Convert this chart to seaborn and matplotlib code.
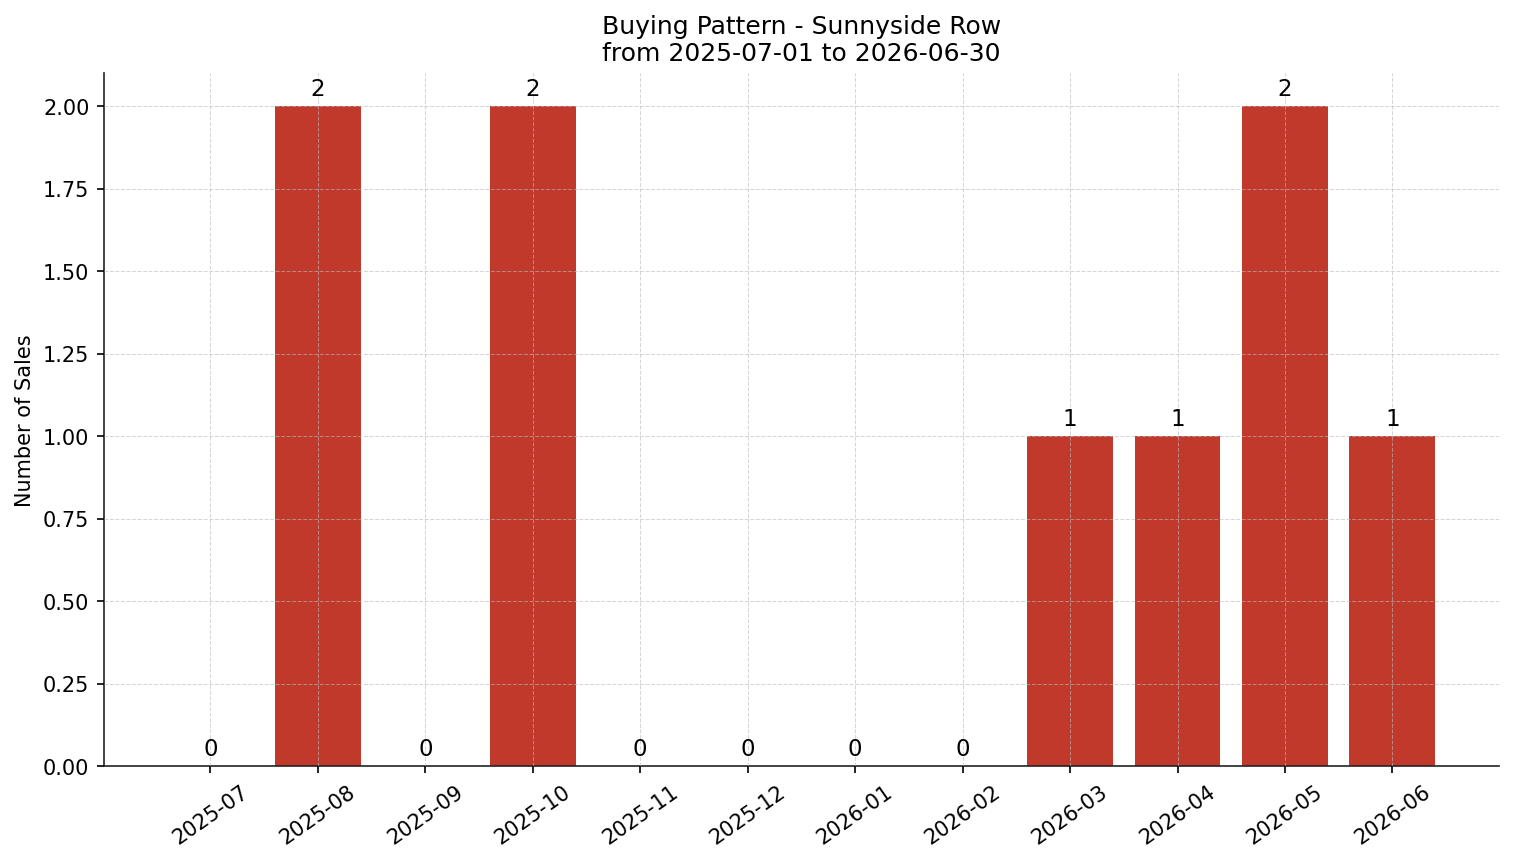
import pandas as pd
import numpy as np
import seaborn as sns
import matplotlib
matplotlib.use("Agg")
import matplotlib.pyplot as plt

## monthly sales counts
months = ['2025-07', '2025-08', '2025-09', '2025-10', '2025-11', '2025-12',
          '2026-01', '2026-02', '2026-03', '2026-04', '2026-05', '2026-06']
sales = [0, 2, 0, 2, 0, 0, 0, 0, 1, 1, 2, 1]

sales_df = pd.DataFrame({'month': months, 'sales': sales})

sns.set_style('ticks', {'text.color': 'black', 'axes.labelcolor': 'black',
                        'axes.edgecolor': 'black', 'xtick.color': 'black', 'ytick.color': 'black'})
plt.rcParams['font.family'] = ['DejaVu Sans']

fig, ax = plt.subplots(figsize=(10.093, 5.753), dpi=150)
fig.subplots_adjust(left=0.0687, right=0.990, top=0.9143, bottom=0.1112)

sns.barplot(x='month', y='sales', data=sales_df, color='#c0392b', saturation=1,
            width=0.8, linewidth=0, ax=ax)
for c in ax.containers:
    ax.bar_label(c, fmt='%d', padding=3, fontsize=11, color='black')

ax.set_xlim(-0.99, 11.99)
ax.set_ylim(0, 2.1)
ax.set_yticks(np.arange(0, 2.01, 0.25))
ax.set_yticklabels(['%.2f' % v for v in np.arange(0, 2.01, 0.25)])
ax.grid(True, linestyle='--', linewidth=0.5, color='#bbbbbb', alpha=0.6)
ax.set_axisbelow(False)
ax.set_title('Buying Pattern - Sunnyside Row\nfrom 2025-07-01 to 2026-06-30', fontsize=12, color='black')
ax.set_xlabel('')
ax.set_ylabel('Number of Sales', fontsize=10, color='black')
ax.tick_params(axis='both', labelsize=10, colors='black')
plt.setp(ax.get_xticklabels(), rotation=35, ha='center')
sns.despine(ax=ax)
for s in ax.spines.values():
    s.set_color('#222222')

fig.savefig('out.png', dpi=150)
